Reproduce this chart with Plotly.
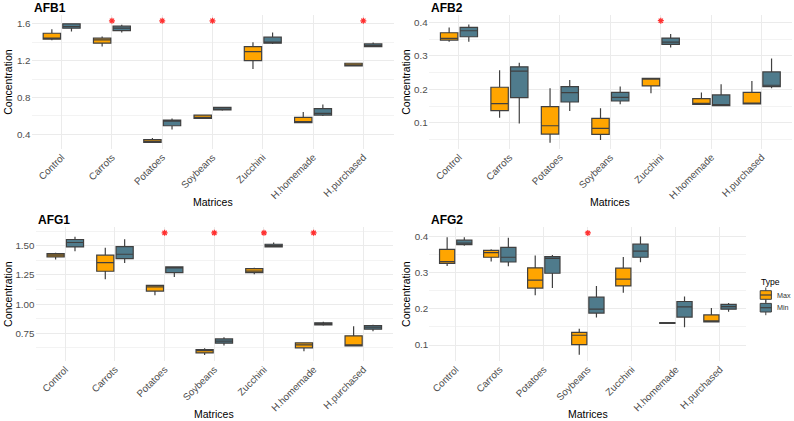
import plotly.graph_objects as go

categories = ["Control", "Carrots", "Potatoes", "Soybeans", "Zucchini", "H.homemade", "H.purchased"]
types = ["Max", "Min"]
panel_titles = ["AFB1", "AFB2", "AFG1", "AFG2"]

# ---- AFB1 ----
afb1_max_low = [1.422, 1.353, 0.310, 0.567, 1.110, 0.523, 1.140]
afb1_max_q1 = [1.433, 1.390, 0.313, 0.574, 1.201, 0.527, 1.143]
afb1_max_med = [1.440, 1.426, 0.327, 0.585, 1.299, 0.530, 1.154]
afb1_max_q3 = [1.498, 1.444, 0.345, 0.610, 1.353, 0.585, 1.172]
afb1_max_high = [1.542, 1.462, 0.360, 0.617, 1.401, 0.643, 1.176]
afb1_min_low = [1.517, 1.506, 0.454, 0.657, 1.382, 0.600, 1.350]
afb1_min_q1 = [1.553, 1.527, 0.494, 0.665, 1.390, 0.610, 1.353]
afb1_min_med = [1.571, 1.553, 0.549, 0.675, 1.397, 0.628, 1.364]
afb1_min_q3 = [1.600, 1.575, 0.556, 0.694, 1.455, 0.679, 1.382]
afb1_min_high = [1.607, 1.589, 0.574, 0.700, 1.506, 0.726, 1.397]

# ---- AFB2 ----
afb2_max_low = [0.342, 0.115, 0.040, 0.048, 0.188, 0.155, 0.156]
afb2_max_q1 = [0.347, 0.136, 0.066, 0.065, 0.210, 0.155, 0.156]
afb2_max_med = [0.352, 0.157, 0.091, 0.083, 0.231, 0.155, 0.157]
afb2_max_q3 = [0.369, 0.206, 0.148, 0.113, 0.233, 0.172, 0.191]
afb2_max_high = [0.385, 0.257, 0.203, 0.143, 0.233, 0.190, 0.225]
afb2_min_low = [0.342, 0.098, 0.135, 0.155, 0.325, 0.151, 0.203]
afb2_min_q1 = [0.357, 0.175, 0.162, 0.165, 0.334, 0.151, 0.208]
afb2_min_med = [0.375, 0.254, 0.190, 0.176, 0.341, 0.151, 0.212]
afb2_min_q3 = [0.385, 0.267, 0.208, 0.191, 0.353, 0.183, 0.252]
afb2_min_high = [0.394, 0.279, 0.228, 0.208, 0.365, 0.215, 0.292]

# ---- AFG1 ----
afg1_max_low = [1.382, 1.213, 1.075, 0.563, 1.256, 0.595, 0.641]
afg1_max_q1 = [1.405, 1.282, 1.112, 0.580, 1.270, 0.624, 0.641]
afg1_max_med = [1.420, 1.356, 1.147, 0.600, 1.284, 0.649, 0.644]
afg1_max_q3 = [1.434, 1.420, 1.161, 0.609, 1.305, 0.667, 0.727]
afg1_max_high = [1.440, 1.483, 1.161, 0.621, 1.313, 0.672, 0.810]
afg1_min_low = [1.454, 1.353, 1.233, 0.644, 1.486, 0.813, 0.767]
afg1_min_q1 = [1.491, 1.391, 1.270, 0.664, 1.491, 0.822, 0.784]
afg1_min_med = [1.529, 1.428, 1.313, 0.681, 1.503, 0.830, 0.802]
afg1_min_q3 = [1.555, 1.494, 1.319, 0.701, 1.514, 0.839, 0.816]
afg1_min_high = [1.578, 1.557, 1.319, 0.716, 1.529, 0.848, 0.822]

# ---- AFG2 ----
afg2_max_low = [0.318, 0.330, 0.237, 0.073, 0.244, 0.160, 0.164]
afg2_max_q1 = [0.325, 0.342, 0.257, 0.101, 0.263, 0.160, 0.164]
afg2_max_med = [0.330, 0.355, 0.279, 0.127, 0.282, 0.161, 0.165]
afg2_max_q3 = [0.364, 0.361, 0.313, 0.135, 0.312, 0.162, 0.183]
afg2_max_high = [0.397, 0.364, 0.347, 0.145, 0.343, 0.162, 0.202]
afg2_min_low = [0.374, 0.317, 0.257, 0.176, 0.328, 0.149, 0.192]
afg2_min_q1 = [0.377, 0.329, 0.298, 0.188, 0.342, 0.177, 0.199]
afg2_min_med = [0.381, 0.342, 0.339, 0.199, 0.359, 0.205, 0.206]
afg2_min_q3 = [0.389, 0.369, 0.344, 0.232, 0.378, 0.220, 0.212]
afg2_min_high = [0.397, 0.396, 0.348, 0.263, 0.399, 0.234, 0.216]

# significance stars
afb1_star_cats = ["Carrots", "Potatoes", "Soybeans", "H.purchased"]
afb1_star_y = [1.633, 1.633, 1.633, 1.633]
afb2_star_cats = ["Zucchini"]
afb2_star_y = [0.405]
afg1_star_cats = ["Potatoes", "Soybeans", "Zucchini", "H.homemade"]
afg1_star_y = [1.612, 1.612, 1.612, 1.612]
afg2_star_cats = ["Soybeans"]
afg2_star_y = [0.409]

# y-axis settings per panel
y_ranges = [[0.244, 1.699], [0.022, 0.423], [0.511, 1.664], [0.056, 0.426]]
y_dticks = [0.4, 0.1, 0.25, 0.1]
y_formats = [".1f", ".1f", ".2f", ".1f"]

W, H = 794, 421


def xp(px):
    return px / W


def yp(py):
    return 1 - py / H


# panel pixel boxes: (left, right, top, bottom)
panels_px = [(31.5, 393.5, 14.7, 148.8), (428.7, 792.0, 14.7, 148.8),
             (35.5, 393.1, 226.8, 361.0), (429.3, 746.4, 226.8, 361.0)]

colors = {"Max": "#FFA500", "Min": "#4F7B8C"}
OUTLINE = "#404040"
FONT = "Liberation Sans, Arial, sans-serif"

panel_data = [
    ((afb1_max_low, afb1_max_q1, afb1_max_med, afb1_max_q3, afb1_max_high),
     (afb1_min_low, afb1_min_q1, afb1_min_med, afb1_min_q3, afb1_min_high),
     afb1_star_cats, afb1_star_y),
    ((afb2_max_low, afb2_max_q1, afb2_max_med, afb2_max_q3, afb2_max_high),
     (afb2_min_low, afb2_min_q1, afb2_min_med, afb2_min_q3, afb2_min_high),
     afb2_star_cats, afb2_star_y),
    ((afg1_max_low, afg1_max_q1, afg1_max_med, afg1_max_q3, afg1_max_high),
     (afg1_min_low, afg1_min_q1, afg1_min_med, afg1_min_q3, afg1_min_high),
     afg1_star_cats, afg1_star_y),
    ((afg2_max_low, afg2_max_q1, afg2_max_med, afg2_max_q3, afg2_max_high),
     (afg2_min_low, afg2_min_q1, afg2_min_med, afg2_min_q3, afg2_min_high),
     afg2_star_cats, afg2_star_y),
]

fig = go.Figure()
annotations = []
shapes = []
layout_axes = {}

for i, (mx, mn, star_cats, star_y) in enumerate(panel_data):
    n = i + 1
    xa = "x" if n == 1 else f"x{n}"
    ya = "y" if n == 1 else f"y{n}"
    for t, stats in zip(types, (mx, mn)):
        low, q1, med, q3, high = stats
        fig.add_trace(go.Box(
            x=categories, q1=q1, median=med, q3=q3, lowerfence=low, upperfence=high,
            name=t, legendgroup=t, showlegend=False,
            alignmentgroup=f"panel{n}", offsetgroup=t,
            fillcolor=colors[t], line=dict(color=OUTLINE, width=1.2),
            whiskerwidth=0, boxpoints=False, xaxis=xa, yaxis=ya, hoverinfo="skip",
        ))
    fig.add_trace(go.Scatter(
        x=star_cats, y=star_y, mode="markers", showlegend=False,
        marker=dict(symbol="asterisk-open", size=5, color="#FF3030",
                    line=dict(color="#FF3030", width=1.2)),
        xaxis=xa, yaxis=ya, hoverinfo="skip",
    ))

    l, r, t_, b = panels_px[i]
    xkey = "xaxis" if n == 1 else f"xaxis{n}"
    ykey = "yaxis" if n == 1 else f"yaxis{n}"
    layout_axes[xkey] = dict(
        domain=[xp(l), xp(r)], anchor=ya, type="category",
        categoryorder="array", categoryarray=categories, range=[-0.6, 6.6],
        tickangle=-45, showgrid=True, gridcolor="#EBEBEB", gridwidth=1,
        zeroline=False, showline=False, ticks="",
        tickfont=dict(family=FONT, size=9.8, color="#4D4D4D"),
    )
    layout_axes[ykey] = dict(
        domain=[yp(b), yp(t_)], anchor=xa, range=y_ranges[i],
        dtick=y_dticks[i], tick0=0, tickformat=y_formats[i],
        showgrid=True, gridcolor="#EBEBEB", gridwidth=1,
        minor=dict(showgrid=True, gridcolor="#F3F3F3", gridwidth=0.6,
                   dtick=y_dticks[i] / 2, tick0=0),
        zeroline=False, showline=False, ticks="",
        tickfont=dict(family=FONT, size=9.8, color="#4D4D4D"),
    )
    # panel title
    annotations.append(dict(
        text=f"<b>{panel_titles[i]}</b>", xref="paper", yref="paper",
        x=xp(l), y=yp(t_ - 6.8), xanchor="left", yanchor="middle",
        showarrow=False, font=dict(family=FONT, size=12, color="black"),
    ))
    # x axis title
    xt_y = 201.7 if i < 2 else 413.5
    annotations.append(dict(
        text="Matrices", xref="paper", yref="paper",
        x=xp((l + r) / 2), y=yp(xt_y), xanchor="center", yanchor="middle",
        showarrow=False, font=dict(family=FONT, size=10.5, color="black"),
    ))
    # y axis title
    yt_x = 8 if i in (0, 2) else 406
    annotations.append(dict(
        text="Concentration", xref="paper", yref="paper",
        x=xp(yt_x), y=yp((t_ + b) / 2), xanchor="center", yanchor="middle",
        textangle=-90, showarrow=False, font=dict(family=FONT, size=10.5, color="black"),
    ))

# ---- manual legend (Type) ----
annotations.append(dict(
    text="Type", xref="paper", yref="paper", x=xp(759.3), y=yp(281.7),
    xanchor="left", yanchor="middle", showarrow=False,
    font=dict(family=FONT, size=8.6, color="black"),
))
key_centers = {"Max": 295.0, "Min": 307.7}
for t in types:
    cy = key_centers[t]
    shapes.append(dict(type="line", xref="paper", yref="paper",
                       x0=xp(765.8), x1=xp(765.8), y0=yp(cy - 7.5), y1=yp(cy + 7.5),
                       line=dict(color=OUTLINE, width=1)))
    shapes.append(dict(type="rect", xref="paper", yref="paper",
                       x0=xp(760.2), x1=xp(771.4), y0=yp(cy - 4.3), y1=yp(cy + 4.3),
                       fillcolor=colors[t], line=dict(color=OUTLINE, width=1)))
    shapes.append(dict(type="line", xref="paper", yref="paper",
                       x0=xp(760.2), x1=xp(771.4), y0=yp(cy), y1=yp(cy),
                       line=dict(color=OUTLINE, width=1.2)))
    annotations.append(dict(
        text=t, xref="paper", yref="paper", x=xp(775), y=yp(cy),
        xanchor="left", yanchor="middle", showarrow=False,
        font=dict(family=FONT, size=7.2, color="#333333"),
    ))

fig.update_layout(
    width=W, height=H, margin=dict(l=0, r=0, t=0, b=0),
    paper_bgcolor="white", plot_bgcolor="white",
    boxmode="group", boxgap=0.22, boxgroupgap=0.115,
    font=dict(family=FONT, size=9, color="#333333"),
    annotations=annotations, shapes=shapes, showlegend=False,
    **layout_axes,
)

fig.write_html("out.html", config={"displayModeBar": False},
               post_script="document.body.style.margin='0px';document.body.style.overflow='hidden';")
